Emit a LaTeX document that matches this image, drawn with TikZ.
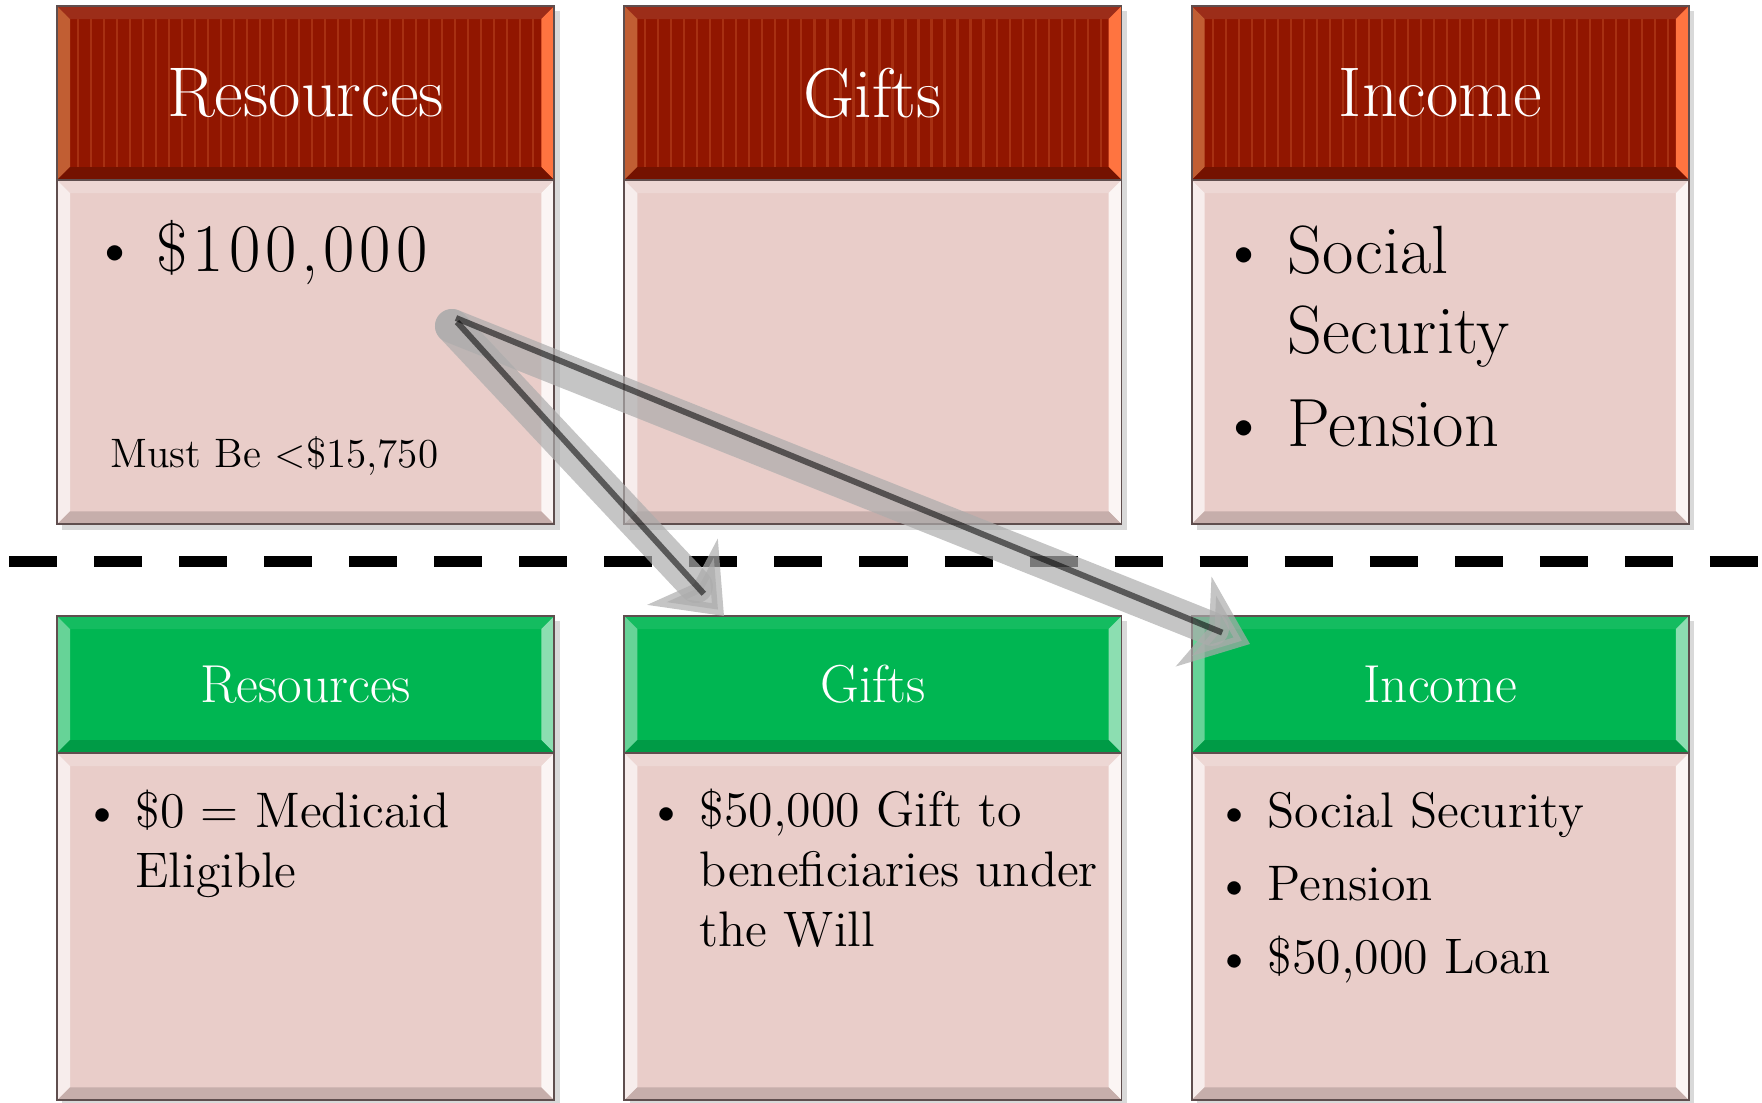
\documentclass[tikz,border=0pt]{standalone}
\usepackage{tikz}
\usetikzlibrary{arrows.meta,positioning,shadows}
\definecolor{hdred}{RGB}{145,22,0}
\definecolor{hdstripe}{RGB}{182,66,30}
\definecolor{hdgreen}{RGB}{0,182,82}
\definecolor{bodypink}{RGB}{233,205,201}
\definecolor{edgegray}{RGB}{95,78,78}

% bevel inside a node: top, left, right, bottom
\newcommand{\bevelpic}[4]{%
  \coordinate (bnw) at (path picture bounding box.north west);
  \coordinate (bne) at (path picture bounding box.north east);
  \coordinate (bsw) at (path picture bounding box.south west);
  \coordinate (bse) at (path picture bounding box.south east);
  \fill[#1] (bnw) -- (bne) -- ([shift={(-13,13)}]bne) -- ([shift={(13,13)}]bnw) -- cycle;
  \fill[#2] (bnw) -- ([shift={(13,13)}]bnw) -- ([shift={(13,-13)}]bsw) -- (bsw) -- cycle;
  \fill[#3] (bne) -- ([shift={(-13,13)}]bne) -- ([shift={(-13,-13)}]bse) -- (bse) -- cycle;
  \fill[#4] (bsw) -- (bse) -- ([shift={(-13,-13)}]bse) -- ([shift={(13,-13)}]bsw) -- cycle;
}
\def\tk{\kern1.4pt}

\begin{document}
\begin{tikzpicture}[x=0.01cm, y=-0.01cm, line join=miter,
  hd/.style={draw=edgegray, line width=0.5pt, inner sep=0pt, outer sep=0pt,
    minimum width=4.97cm, text=white,
    drop shadow={shadow xshift=1.5pt, shadow yshift=-1.5pt, opacity=0.3}},
  stripe/.style={draw=hdstripe, line width=0.6pt, draw opacity=0.6},
  redhead/.style={hd, fill=hdred, minimum height=1.74cm,
    font=\fontsize{20}{24}\selectfont,
    path picture={
      \foreach \i in {0,...,37}
        \draw[stripe] ([xshift={0.08cm+\i*0.13cm}]path picture bounding box.north west)
          -- ([xshift={0.08cm+\i*0.13cm}]path picture bounding box.south west);
      \bevelpic{hdred!90!white}{hdred!70!orange!80!white}{orange!55!red!75!white}{hdred!80!black}}},
  greenhead/.style={hd, fill=hdgreen, minimum height=1.37cm,
    font=\fontsize{15.2}{18}\selectfont,
    path picture={\bevelpic{hdgreen!92!white}{hdgreen!60!white}{hdgreen!45!white}{hdgreen!85!black}}},
  pinkbody/.style={hd, fill=bodypink,
    path picture={\bevelpic{bodypink!80!white}{bodypink!35!white}{bodypink!20!white}{bodypink!85!black}}},
  bigtxt/.style={anchor=base west, inner sep=0pt, font=\fontsize{19.4}{23}\selectfont},
  smalltxt/.style={anchor=base west, inner sep=0pt, font=\fontsize{14.2}{17.2}\selectfont},
  arrowbody/.style={line width=0.34cm, draw=gray!65, opacity=0.7, line cap=round,
    -{Stealth[length=0.6cm, width=0.95cm, inset=0.16cm]}},
  arrowcore/.style={line width=0.06cm, draw=black, opacity=0.55, shorten >=0.3cm}
]
  \useasboundingbox (0,0) rectangle (1762,1102);

  % before
  \node[redhead, anchor=north west] (rh1) at (57,6) {Resources};
  \node[redhead, right=0.70cm of rh1] (rh2) {Gifts};
  \node[redhead, right=0.70cm of rh2] (rh3) {Income};
  \node[pinkbody, minimum height=3.44cm, below=0pt of rh1] (rb1) {};
  \node[pinkbody, minimum height=3.44cm, below=0pt of rh2] (rb2) {};
  \node[pinkbody, minimum height=3.44cm, below=0pt of rh3] (rb3) {};

  \node[bigtxt] (t1) at (90,271)
    {\begin{tabular}[t]{@{}p{0.66cm}@{}l@{}}\textbullet & \$\tk1\tk0\tk0\tk,\tk0\tk0\tk0\end{tabular}};
  \node[anchor=base west, inner sep=0pt, font=\fontsize{11.7}{14}\selectfont] (limit) at (110,467)
    {Must Be \textless\$15,750};
  \node[bigtxt] (t3) at (1219,273)
    {\begin{tabular}[t]{@{}p{0.68cm}@{}l@{}}\textbullet & Social\\ & Security\\[3.2pt] \textbullet & Pension\end{tabular}};

  \draw[line width=0.11cm, dash pattern=on 0.48cm off 0.37cm] (9,561) -- (1762,561);

  % after
  \node[greenhead, anchor=north west] (gh1) at (57,616) {Resources};
  \node[greenhead, right=0.70cm of gh1] (gh2) {Gifts};
  \node[greenhead, right=0.70cm of gh2] (gh3) {Income};
  \node[pinkbody, minimum height=3.47cm, below=0pt of gh1] (gb1) {};
  \node[pinkbody, minimum height=3.47cm, below=0pt of gh2] (gb2) {};
  \node[pinkbody, minimum height=3.47cm, below=0pt of gh3] (gb3) {};

  \node[smalltxt] (b1) at (83,827)
    {\begin{tabular}[t]{@{}p{0.52cm}@{}l@{}}\textbullet & \$0 = Medicaid\\ & Eligible\end{tabular}};
  \node[smalltxt] (b2) at (647,826)
    {\begin{tabular}[t]{@{}p{0.52cm}@{}l@{}}\textbullet & \$50,000 Gift to\\ & beneficiaries under\\ & the Will\end{tabular}};
  \node[smalltxt] (b3) at (1215,827)
    {\begin{tabular}[t]{@{}p{0.52cm}@{}l@{}}\textbullet & Social Security\\[3.6pt] \textbullet & Pension\\[3.6pt] \textbullet & \$50,000 Loan\end{tabular}};

  % transfers
  \coordinate (src) at (452,326);
  \coordinate (togift) at (724,616);
  \coordinate (toincome) at (1250,644);
  \draw[arrowbody] (src) -- (togift);
  \draw[arrowbody] (src) -- (toincome);
  \draw[arrowcore] ([shift={(5,-4)}]src) -- (togift);
  \draw[arrowcore] ([shift={(4,-8)}]src) -- (toincome);
\end{tikzpicture}
\end{document}
